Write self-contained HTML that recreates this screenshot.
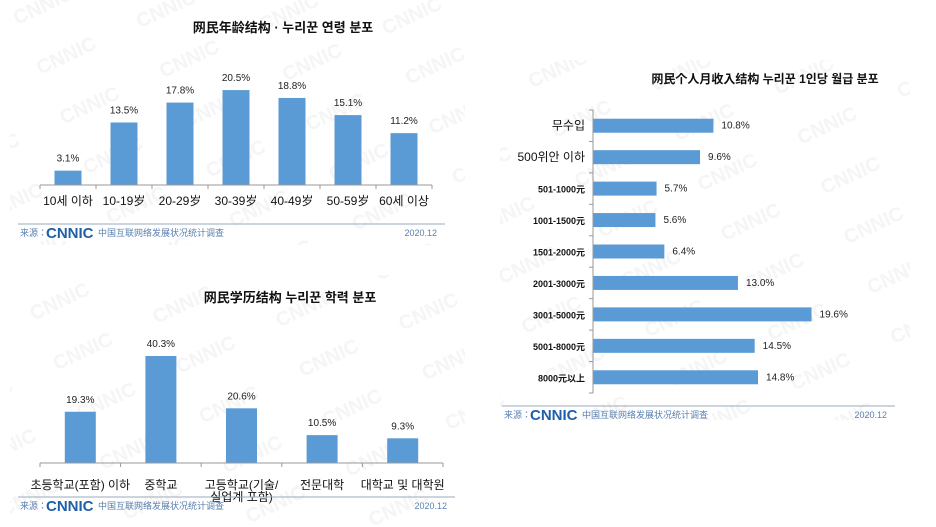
<!DOCTYPE html>
<html><head><meta charset="utf-8">
<style>
body{margin:0;background:#fff;}
svg{display:block;font-family:"Liberation Sans","Noto Sans CJK KR","Noto Sans CJK SC",sans-serif;}
.lbl{font-size:10px;fill:#222;}
.ax{font-size:12px;fill:#111;}
.wm{font-size:20px;font-weight:bold;fill:#f5f5f5;}
</style></head>
<body>
<svg id="svg" width="936" height="527" viewBox="0 0 936 527" xmlns="http://www.w3.org/2000/svg">
<defs>
<pattern id="wmp" width="110" height="55" patternUnits="userSpaceOnUse" patternTransform="rotate(-25)">
<text class="wm" x="5" y="30">CNNIC</text>
</pattern>
</defs>
<rect x="10" y="0" width="455" height="245" fill="url(#wmp)"/>
<rect x="10" y="275" width="455" height="250" fill="url(#wmp)"/>
<rect x="500" y="60" width="410" height="360" fill="url(#wmp)"/>
<g id="g1"></g>
<g id="g2"></g>
<g id="g3"></g>
</svg>
<script>
const ageCats=["10세 이하","10-19岁","20-29岁","30-39岁","40-49岁","50-59岁","60세 이상"];
const ageVals=[3.1,13.5,17.8,20.5,18.8,15.1,11.2];
const eduCats=[["초등학교(포함) 이하"],["중학교"],["고등학교(기술/","실업계 포함)"],["전문대학"],["대학교 및 대학원"]];
const eduVals=[19.3,40.3,20.6,10.5,9.3];
const incCats=["무수입","500위안 이하","501-1000元","1001-1500元","1501-2000元","2001-3000元","3001-5000元","5001-8000元","8000元以上"];
const incVals=[10.8,9.6,5.7,5.6,6.4,13.0,19.6,14.5,14.8];
const NS="http://www.w3.org/2000/svg";
function mk(p,tag,attrs,txt){const e=document.createElementNS(NS,tag);for(const k in attrs)e.setAttribute(k,attrs[k]);if(txt!==undefined)e.textContent=txt;p.appendChild(e);return e;}
const BLUE="#5b9bd5";
function footer(g,x0,x1,y){
  let l=mk(g,'line',{x1:x0,x2:x1,y1:y,y2:y,stroke:'#9ab',"stroke-width":1});
  
  let t=mk(g,'text',{x:x0+2,y:y+12,"font-size":9,fill:'#5a7fb0'},'来源：');
  
  let c=mk(g,'text',{x:x0+28,y:y+14,"font-size":15,"font-weight":"bold",fill:'#1f5fa8'},'CNNIC');
  
  let s=mk(g,'text',{x:x0+80,y:y+12,"font-size":9,fill:'#5a7fb0'},'中国互联网络发展状况统计调查');
  
  let d=mk(g,'text',{x:x1-8,y:y+12,"font-size":9,fill:'#5a7fb0',"text-anchor":"end"},'2020.12');
  
}
(function(){
 const g=document.getElementById('g1');
 const base=185,sc=4.63,x0=40,x1=432,n=ageVals.length,step=(x1-x0)/n;
 const xs=i=>x0+step*(i+0.5), ys=v=>base-v*sc;
 let t=mk(g,'text',{x:283,y:32,"font-size":13,"font-weight":"bold","text-anchor":"middle",fill:'#111'},'网民年龄结构 · 누리꾼 연령 분포');
 
 ageVals.forEach((v,i)=>{
  let r=mk(g,'rect',{x:xs(i)-13.5,y:ys(v),width:27,height:v*sc,fill:BLUE});
  
  let l=mk(g,'text',{x:xs(i),y:ys(v)-9,class:'lbl',"text-anchor":"middle"},v.toFixed(1)+'%');
  
  let c=mk(g,'text',{x:xs(i),y:205,class:'ax',"text-anchor":"middle","font-size":(i==0||i==n-1)?13:11},ageCats[i]);
  
 });
 let a=mk(g,'line',{x1:x0,x2:x1,y1:base,y2:base,stroke:'#999'});
 
 for(let i=0;i<=n;i++){let k=mk(g,'line',{x1:x0+step*i,x2:x0+step*i,y1:base,y2:base+4,stroke:'#999'});}
 footer(g,18,445,224);
})();
(function(){
 const g=document.getElementById('g2');
 const base=463,sc=2.655,x0=40,x1=443,n=eduVals.length,step=(x1-x0)/n;
 const xs=i=>x0+step*(i+0.5), ys=v=>base-v*sc;
 let t=mk(g,'text',{x:290,y:302,"font-size":13,"font-weight":"bold","text-anchor":"middle",fill:'#111'},'网民学历结构  누리꾼 학력 분포');
 
 eduVals.forEach((v,i)=>{
  let r=mk(g,'rect',{x:xs(i)-15.5,y:ys(v),width:31,height:v*sc,fill:BLUE});
  
  let l=mk(g,'text',{x:xs(i),y:ys(v)-9,class:'lbl',"text-anchor":"middle"},v.toFixed(1)+'%');
  
  eduCats[i].forEach((s,j)=>{
   let c=mk(g,'text',{x:xs(i),y:489+j*12,class:'ax',"text-anchor":"middle","font-size":11.5},s);
   
  });
 });
 let a=mk(g,'line',{x1:x0,x2:x1,y1:base,y2:base,stroke:'#999'});
 
 for(let i=0;i<=n;i++){let k=mk(g,'line',{x1:x0+step*i,x2:x0+step*i,y1:base,y2:base+4,stroke:'#999'});}
 footer(g,18,455,497);
})();
(function(){
 const g=document.getElementById('g3');
 const ax=593,y0=110,y1=393,sc=11.15,n=incVals.length,step=(y1-y0)/n;
 const ys=i=>y0+step*(i+0.5), xs=v=>ax+v*sc;
 let t=mk(g,'text',{x:765,y:83,"font-size":12,"font-weight":"bold","text-anchor":"middle",fill:'#111'},'网民个人月收入结构  누리꾼 1인당 월급 분포');
 
 incVals.forEach((v,i)=>{
  let r=mk(g,'rect',{x:ax,y:ys(i)-7,width:v*sc,height:14,fill:BLUE});
  
  let l=mk(g,'text',{x:xs(v)+8,y:ys(i)+3,class:'lbl',"font-size":9},v.toFixed(1)+'%');
  
  let c=mk(g,'text',{x:585,y:ys(i)+4,"text-anchor":"end",fill:'#111',"font-size":i<2?12:9,"font-weight":i<2?"normal":"bold"},incCats[i]);
  
 });
 let a=mk(g,'line',{x1:ax,x2:ax,y1:y0,y2:y1,stroke:'#999'});
 
 for(let i=0;i<=n;i++){let k=mk(g,'line',{x1:ax-4,x2:ax,y1:y0+step*i,y2:y0+step*i,stroke:'#999'});}
 footer(g,502,895,406);
})();
</script>
</body></html>
